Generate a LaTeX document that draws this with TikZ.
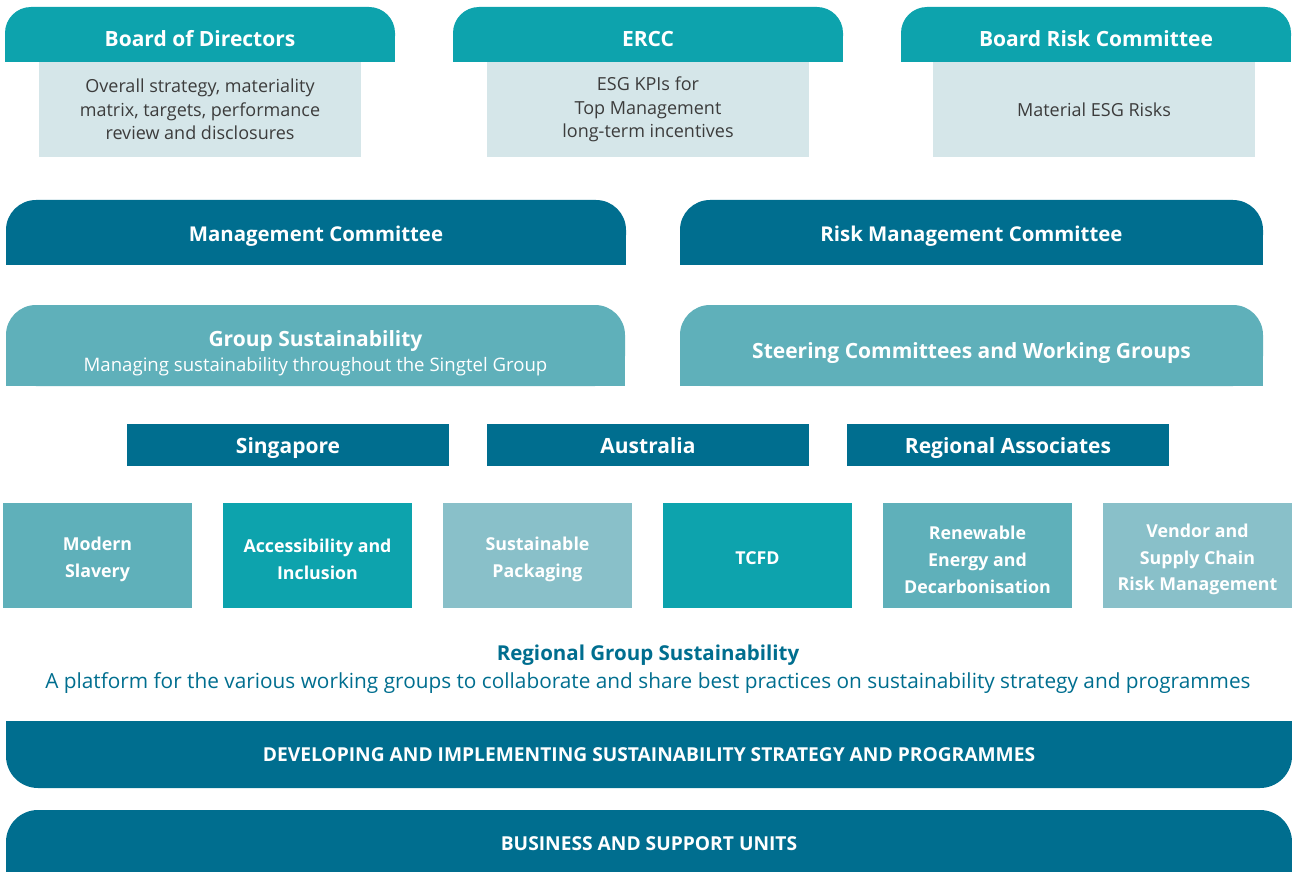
\documentclass[tikz,border=0pt]{standalone}
\usepackage{fontspec}
\setmainfont{Open Sans}
\usetikzlibrary{backgrounds,positioning}
\definecolor{sgteal}{HTML}{0DA3AD}
\definecolor{sgpale}{HTML}{D5E6E9}
\definecolor{sgblue}{HTML}{006E8F}
\definecolor{sgmid}{HTML}{5FB0BA}
\definecolor{sglight}{HTML}{89C0C9}
\definecolor{sgtext}{HTML}{3C3C3C}
\newcommand{\toppad}[1]{\rule{0pt}{#1}}

\begin{document}
\begin{tikzpicture}[x=0.5pt,y=-0.5pt,on grid,
        box/.style={rectangle,inner sep=0pt,align=center,text=white,
            font=\bfseries\fontsize{10.5}{13}\selectfont},
        head/.style={box,fill=sgteal,rounded corners=13pt,minimum width=195pt,minimum height=27.5pt,
            text height=12.2pt,text depth=0pt},
        pale/.style={box,fill=sgpale,text=sgtext,minimum width=161pt,minimum height=47.5pt,
            font=\fontsize{9}{11.75}\selectfont},
        committee/.style={box,fill=sgblue,rounded corners=15pt,minimum height=32.5pt,
            font=\bfseries\fontsize{10.2}{13}\selectfont,text height=9pt,text depth=0pt},
        group/.style={box,fill=sgmid,rounded corners=15pt,minimum height=40.5pt},
        country/.style={box,fill=sgblue,minimum width=161pt,minimum height=21pt,
            text height=8.2pt,text depth=0pt},
        topic/.style={box,minimum width=94.5pt,minimum height=52.5pt,
            font=\bfseries\fontsize{8.9}{13.4}\selectfont},
        bar/.style={box,fill=sgblue,rounded corners=16pt,minimum width=643pt,
            font=\bfseries\fontsize{9.6}{11}\selectfont,text height=6.85pt,text depth=0pt}]
    \useasboundingbox (0,0) rectangle (1292,872);

    % board level
    \node[head] (bod) at (200,34.5) {Board of Directors};
    \node[head] (ercc) [right=224pt of bod] {ERCC};
    \node[head] (brc) [right=224pt of ercc] {Board Risk Committee};
    \node[pale] (bod_txt) [below=37.5pt of bod] {Overall strategy, materiality\\matrix, targets, performance\\review and disclosures};
    \node[pale] (ercc_txt) [below=37.5pt of ercc] {ESG KPIs for\\Top Management\\long-term incentives};
    \node[pale] (brc_txt) at (1094,109.5) {Material ESG Risks};

    % management level
    \node[committee,minimum width=310pt] (mc) at (316,232.5) {Management Committee};
    \node[committee,minimum width=291.5pt] (rmc) at (971.5,232.5) {Risk Management Committee};
    \node[group,minimum width=309.5pt] (gs) at (315.5,345.5)
        {\toppad{15.5pt}Group Sustainability\\[-0.5pt]{\mdseries\fontsize{9.3}{11}\selectfont Managing sustainability throughout the Singtel Group}};
    \node[group,minimum width=291.5pt,text height=12.5pt,text depth=0pt] (scwg) at (971.5,345.5) {Steering Committees and Working Groups};

    % countries
    \node[country] (sg) at (288,445) {Singapore};
    \node[country] (au) [right=180pt of sg] {Australia};
    \node[country] (ra) [right=180pt of au] {Regional Associates};

    % working groups
    \node[topic,fill=sgmid] (ms) at (97.5,555.5) {\toppad{10.8pt}Modern\\Slavery};
    \node[topic,fill=sgteal] (ai) [right=110pt of ms] {\toppad{10.8pt}Accessibility and\\Inclusion};
    \node[topic,fill=sglight] (sp) [right=110pt of ai] {\toppad{10.8pt}Sustainable\\Packaging};
    \node[topic,fill=sgteal] (tcfd) [right=110pt of sp] {\toppad{9pt}TCFD};
    \node[topic,fill=sgmid] (red) [right=110pt of tcfd] {\toppad{10.8pt}Renewable\\Energy and\\Decarbonisation};
    \node[topic,fill=sglight] (vsc) [right=110pt of red] {\toppad{10.8pt}Vendor and\\Supply Chain\\Risk Management};

    \node[anchor=base,inner sep=0pt,text=sgblue,font=\bfseries\fontsize{10.25}{12}\selectfont] (rgs) at (648,660) {Regional Group Sustainability};
    \node[anchor=base,inner sep=0pt,text=sgblue,font=\fontsize{10.4}{12}\selectfont] (rgs_txt) at (648,688)
        {A platform for the various working groups to collaborate and share best practices on sustainability strategy and programmes};

    % bottom bars
    \node[bar,minimum height=33.5pt] (dev) at (649,754.5) {DEVELOPING AND IMPLEMENTING SUSTAINABILITY STRATEGY AND PROGRAMMES};
    \node[bar,minimum height=34pt] (bsu) at (649,844) {BUSINESS AND SUPPORT UNITS};

    % square off the corners that are not rounded
    \begin{scope}[on background layer]
        \fill[sgteal] (bod.west) rectangle (bod.south east);
        \fill[sgteal] (ercc.west) rectangle (ercc.south east);
        \fill[sgteal] (brc.west) rectangle (brc.south east);
        \fill[sgblue] (mc.west) rectangle (mc.south east);
        \fill[sgblue] (rmc.west) rectangle (rmc.south east);
        \fill[sgmid] (gs.west) rectangle (gs.south east);
        \fill[sgmid] (scwg.west) rectangle (scwg.south east);
        \fill[sgblue] (dev.north west) rectangle (dev.east);
        \fill[sgblue] (bsu.west) rectangle (bsu.south east);
    \end{scope}
\end{tikzpicture}
\end{document}
